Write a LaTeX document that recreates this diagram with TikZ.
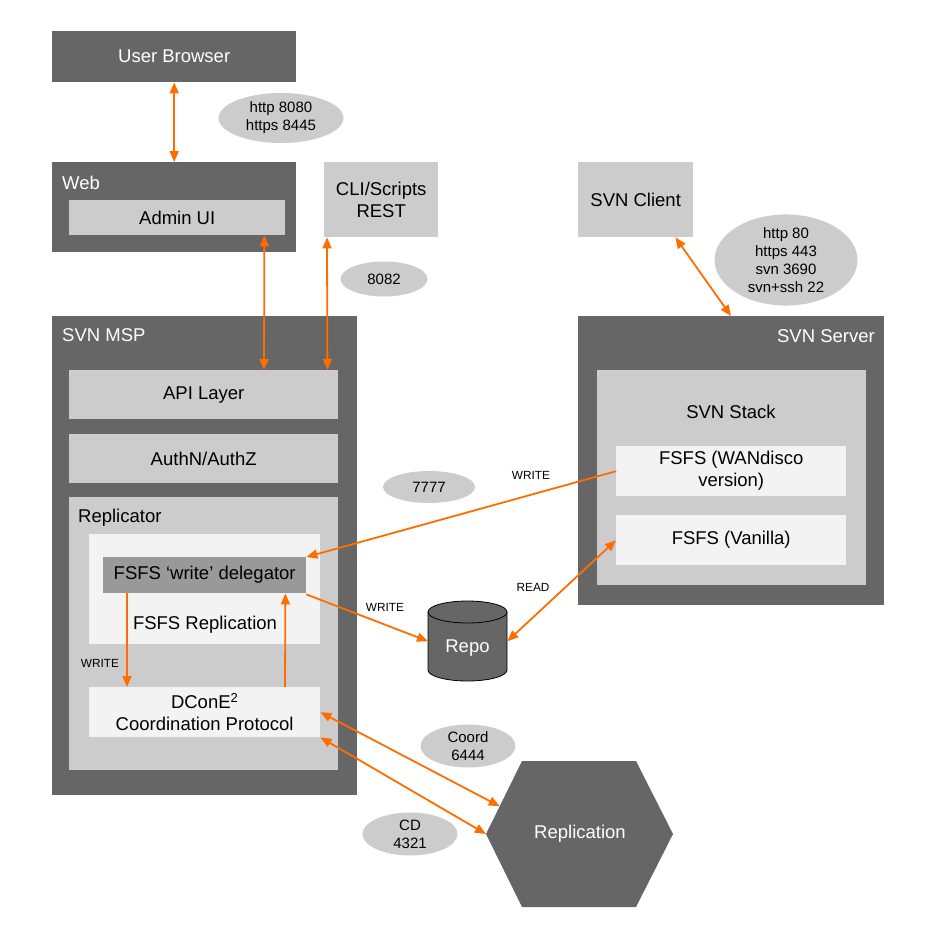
\documentclass[tikz,border=0pt]{standalone}
\usepackage{fontspec}
\setmainfont{Liberation Sans}
\usetikzlibrary{shapes.geometric,arrows.meta,calc}
\definecolor{dk}{HTML}{666666}
\definecolor{lt}{HTML}{CCCCCC}
\definecolor{pl}{HTML}{F3F3F3}
\definecolor{md}{HTML}{999999}
\definecolor{orn}{HTML}{FF6D01}
\begin{document}
\begin{tikzpicture}[x=1pt,y=-1pt,
  box/.style={anchor=north west,inner sep=0pt,align=center,font=\fontsize{18.5}{22}\selectfont},
  dkbox/.style={box,fill=dk,text=white},
  ltbox/.style={box,fill=lt,text=black},
  plbox/.style={box,fill=pl,text=black},
  mdbox/.style={box,fill=md,text=black},
  port/.style={ellipse,fill=lt,inner sep=0pt,align=center,font=\fontsize{15}{17.8}\selectfont},
  small/.style={inner sep=0pt,font=\fontsize{11.8}{13}\selectfont},
  ttl/.style={inner sep=0pt,font=\fontsize{18.5}{22}\selectfont},
  arr/.style={draw=orn,line width=1.8pt,-{Triangle[length=11pt,width=9pt]}},
  arrb/.style={draw=orn,line width=1.8pt,{Triangle[length=11pt,width=9pt]}-{Triangle[length=11pt,width=9pt]}}
]
\useasboundingbox (0,0) rectangle (950,934);

% top left
\node[dkbox,minimum width=244pt,minimum height=51pt] (ub) at (52,31) {User Browser};
\node[port,minimum width=125pt,minimum height=50pt] (p1) at (281,118) {http 8080\\https 8445};
\node[dkbox,minimum width=244pt,minimum height=90pt] (web) at (52,162) {};
\node[ttl,text=white,anchor=west] (webl) at (62,183) {Web};
\node[ltbox,minimum width=216pt,minimum height=35pt] (admin) at (69,200) {Admin UI};
\node[ltbox,minimum width=114pt,minimum height=75pt] (cli) at (324,162) {CLI/Scripts\\REST};
\node[port,minimum width=87pt,minimum height=35pt] (p2) at (384,279) {8082};

% SVN MSP
\node[dkbox,minimum width=305pt,minimum height=479pt] (msp) at (52,316) {};
\node[ttl,text=white,anchor=west] (mspl) at (62,335) {SVN MSP};
\node[ltbox,minimum width=269pt,minimum height=49pt] (api) at (69,370) {API Layer};
\node[ltbox,minimum width=269pt,minimum height=49pt] (auth) at (69,434) {AuthN/AuthZ};
\node[ltbox,minimum width=269pt,minimum height=273pt] (rep) at (69,497) {};
\node[ttl,anchor=west] (repl) at (78,518) {Replicator};
\node[plbox,minimum width=231pt,minimum height=110pt] (fsrep) at (89,534) {};
\node[ttl] (fsrepl) at (205,625) {FSFS Replication};
\node[mdbox,minimum width=203pt,minimum height=36pt] (deleg) at (103,557) {FSFS ‘write’ delegator};
\node[plbox,minimum width=231pt,minimum height=50pt] (dcone) at (89,687) {DConE\textsuperscript{2}\\Coordination Protocol};

% SVN side
\node[ltbox,minimum width=115pt,minimum height=75pt] (client) at (578,162) {SVN Client};
\node[port,minimum width=143pt,minimum height=91pt] (p3) at (786,260) {http 80\\https 443\\svn 3690\\svn+ssh 22};
\node[dkbox,minimum width=306pt,minimum height=289pt] (server) at (578,316) {};
\node[ttl,text=white,anchor=east] (serverl) at (875,336) {SVN Server};
\node[ltbox,minimum width=269pt,minimum height=215pt] (stack) at (597,370) {};
\node[ttl] (stackl) at (731,412) {SVN Stack};
\node[plbox,minimum width=230pt,minimum height=50pt] (wan) at (616,446) {FSFS (WANdisco\\version)};
\node[plbox,minimum width=230pt,minimum height=50pt] (van) at (616,515) {FSFS (Vanilla)};

% Repo cylinder
\node[anchor=north west,inner sep=0pt,minimum width=79pt,minimum height=80pt] (repo) at (428,601) {};
\draw[fill=dk,draw=black,line width=0.8pt] (428,612) -- (428,670)
  arc[start angle=180,end angle=360,x radius=39.5pt,y radius=11pt] -- (507,612)
  arc[start angle=0,end angle=180,x radius=39.5pt,y radius=11pt] -- cycle;
\draw[draw=black,line width=0.8pt] (428,612) arc[start angle=180,end angle=360,x radius=39.5pt,y radius=11pt];
\node[ttl,text=white] (repot) at (467.5,648) {Repo};

% Replication hexagon
\coordinate (hA) at (522,761);
\coordinate (hB) at (636,761);
\coordinate (hC) at (673,834);
\coordinate (hD) at (636,907);
\coordinate (hE) at (522,907);
\coordinate (hF) at (486,834);
\fill[dk] (hA) -- (hB) -- (hC) -- (hD) -- (hE) -- (hF) -- cycle;
\node[ttl,text=white] (hex) at (580,834) {Replication};
\coordinate (hP) at ($(hF)!0.38!(hA)$);

% port labels
\node[port,minimum width=92pt,minimum height=32pt] (p4) at (429,487) {7777};
\node[port,minimum width=95pt,minimum height=43pt] (p5) at (468,746) {Coord\\6444};
\node[port,minimum width=95pt,minimum height=43pt] (p6) at (410,834) {CD\\4321};
\node[small] (w1) at (531,475) {WRITE};
\node[small] (w2) at (385,607) {WRITE};
\node[small] (rd) at (533,587) {READ};
\node[small] (w3) at (100,663) {WRITE};

% connectors
\draw[arrb] (ub.south) -- (web.north);
\draw[arrb] ([xshift=-21pt]admin.south east) -- ([xshift=195pt]api.north west);
\draw[arrb] ([xshift=3pt]cli.south west) -- ([xshift=-11pt]api.north east);
\draw[arrb] ([xshift=-18pt]client.south east) -- ([xshift=153pt]server.north west);
\draw[arr] (wan.west) -- (deleg.north east);
\draw[arr] ([yshift=-1pt]deleg.south east) -- (repo.west);
\draw[arrb] (repo.east) -- (van.west);
\draw[arr] ([xshift=24pt]deleg.south west) -- ([xshift=38pt]dcone.north west);
\draw[arr] ([xshift=196pt]dcone.north west) -- ([xshift=-21pt]deleg.south east);
\draw[arrb] (dcone.east) -- (hP);
\draw[arrb] (dcone.south east) -- (hF);
\end{tikzpicture}
\end{document}
